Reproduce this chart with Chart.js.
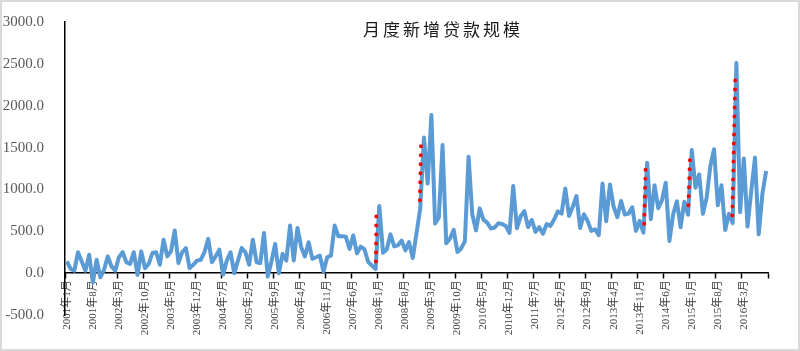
<!DOCTYPE html>
<html>
<head>
<meta charset="utf-8">
<script src="https://cdn.jsdelivr.net/npm/chart.js@4"></script>
<style>
  body { margin: 0; background: #fff; }
</style>
</head>
<body>
<canvas id="loans" width="800" height="351"></canvas>
<script>
// 月度新增贷款 (单位: 十亿元), 2001年1月 - 2016年9月
const chartTitle = '月度新增贷款规模';
const startYear = 2001;
const newLoans = [
  140, 50, 30, 250, 140, 30, 220, -110, 160, -50, 40, 200,
  80, 30, 190, 250, 130, 110, 250, -20, 260, 60, 110, 240,
  250, 100, 400, 200, 260, 510, 120, 250, 300, 60, 100, 150,
  160, 250, 410, 130, 200, 280, -20, 150, 250, 0, 150, 300,
  250, 100, 400, 130, 120, 480, -40, 140, 350, 0, 230, 150,
  570, 150, 540, 310, 200, 370, 170, 190, 210, 20, 190, 210,
  568, 441, 442, 436, 289, 451, 236, 316, 286, 136, 90, 49,
  803, 244, 283, 465, 319, 332, 389, 272, 370, 181, 477, 772,
  1620, 1070, 1890, 592, 665, 1530, 356, 410, 517, 253, 295, 380,
  1390, 700, 511, 774, 639, 603, 533, 545, 596, 587, 564, 480,
  1040, 536, 679, 740, 552, 634, 493, 549, 470, 587, 562, 641,
  738, 711, 1010, 682, 793, 920, 540, 704, 623, 505, 523, 454,
  1070, 620, 1060, 793, 669, 861, 700, 711, 787, 505, 625, 483,
  1320, 645, 1050, 775, 871, 1080, 385, 703, 857, 548, 853, 697,
  1470, 1020, 1180, 708, 901, 1280, 1480, 810, 1050, 514, 709, 598,
  2510, 727, 1370, 556, 986, 1380, 464, 949, 1220
];

// red dotted jumps (month index from start, low -> high)
const gapStartIdx = [83.1, 94.9, 155.2, 167.1, 178.9];
const gapEndIdx = [83.2, 95.2, 155.6, 167.5, 179.7];
const gapLow = [140, 870, 590, 810, 690];
const gapHigh = [720, 1530, 1260, 1360, 2330];

const yTicks = { min: -500, max: 3000, step: 500 };
const labelEvery = 7;

const months = newLoans.map((v, i) => {
  const y = startYear + Math.floor(i / 12);
  return y + '年' + (i % 12 + 1) + '月';
});

const gapPoints = [];
gapLow.forEach((low, k) => {
  gapPoints.push({ x: gapStartIdx[k], y: low });
  gapPoints.push({ x: gapEndIdx[k], y: gapHigh[k] });
  gapPoints.push({ x: gapEndIdx[k], y: null });
});

const frame = {
  id: 'frame',
  beforeDraw(chart) {
    const ctx = chart.ctx;
    ctx.save();
    ctx.fillStyle = '#fff';
    ctx.fillRect(0, 0, chart.width, chart.height);
    ctx.restore();
  },
  afterDraw(chart) {
    const ctx = chart.ctx;
    ctx.save();
    ctx.strokeStyle = '#d9d9d9';
    ctx.lineWidth = 2;
    ctx.strokeRect(1, 1, chart.width - 2, chart.height - 2);
    ctx.font = '17px "Noto Sans CJK SC"';
    ctx.letterSpacing = '3px';
    ctx.fillStyle = '#1a1a1a';
    ctx.textAlign = 'center';
    ctx.textBaseline = 'middle';
    ctx.fillText(chartTitle, 443, 30);
    ctx.restore();
  }
};

const tickShown = c => (c.index === undefined || c.index % labelEvery === 0) ? '#000' : 'rgba(0,0,0,0)';

new Chart(document.getElementById('loans'), {
  type: 'line',
  data: {
    labels: months,
    datasets: [{
      data: gapPoints,
      xAxisID: 'xg',
      yAxisID: 'y',
      borderColor: '#ff0000',
      borderWidth: 4,
      borderDash: [0, 9],
      borderCapStyle: 'round',
      pointRadius: 0,
      spanGaps: false,
      fill: false
    }, {
      data: newLoans,
      xAxisID: 'x',
      yAxisID: 'y',
      borderColor: '#5b9bd5',
      borderWidth: 4,
      borderJoinStyle: 'round',
      pointRadius: 0,
      tension: 0,
      fill: false
    }]
  },
  options: {
    responsive: false,
    animation: false,
    layout: { padding: { left: 0, top: 22, right: 32, bottom: 36 } },
    plugins: {
      legend: { display: false },
      tooltip: { enabled: false }
    },
    scales: {
      x: {
        type: 'category',
        offset: true,
        position: { y: 0 },
        border: { display: true, color: '#000', width: 1.5 },
        grid: {
          display: true,
          offset: true,
          drawOnChartArea: false,
          drawTicks: true,
          tickLength: 5,
          tickWidth: 1.5,
          color: tickShown,
          tickColor: tickShown
        },
        ticks: {
          autoSkip: false,
          minRotation: 90,
          maxRotation: 90,
          padding: 2,
          color: '#404040',
          font: { family: '"Liberation Serif", "Noto Sans CJK SC"', size: 11 },
          callback: function(v, i) {
            return i % labelEvery === 0 ? this.getLabelForValue(v) : '';
          }
        }
      },
      xg: {
        type: 'linear',
        display: false,
        min: -0.5,
        max: newLoans.length - 0.5
      },
      y: {
        min: yTicks.min,
        max: yTicks.max,
        afterFit: s => { s.width = 65; },
        border: { display: true, color: '#000', width: 1.5 },
        grid: { display: false },
        ticks: {
          stepSize: yTicks.step,
          padding: 13,
          color: '#595959',
          font: { family: '"Liberation Serif"', size: 15 },
          callback: v => v.toFixed(1)
        }
      }
    }
  },
  plugins: [frame]
});
</script>
</body>
</html>
